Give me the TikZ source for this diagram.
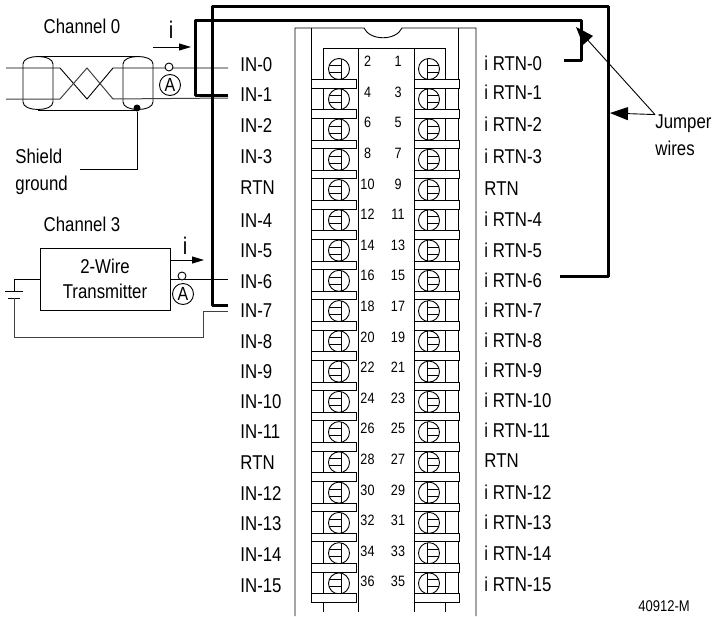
\documentclass[tikz,border=0pt]{standalone}
\usepackage{fontspec}
\setmainfont[FakeStretch=0.84]{Liberation Sans}
\usetikzlibrary{arrows.meta,positioning}

\begin{document}
\begin{tikzpicture}[x=1pt,y=-1pt,line width=0.9pt,
  every node/.style={font=\fontsize{20}{27}\selectfont},
  inlabel/.style={anchor=west,inner ysep=0pt,inner xsep=12pt},
  rtnlabel/.style={anchor=west,inner ysep=0pt,inner xsep=18pt},
  pinnum/.style={inner sep=0pt,font=\fontsize{15}{16}\selectfont},
  screwhead/.style={draw,circle,minimum size=21pt,inner sep=0pt},
  clampbar/.style={draw,fill=white,minimum width=45pt,minimum height=8.5pt,inner sep=0pt},
  meter/.style={draw,circle,fill=white,minimum size=21pt,inner sep=0pt,font=\fontsize{19}{20}\selectfont},
  tapnode/.style={draw,circle,fill=white,minimum size=8pt,inner sep=0pt},
  currentlabel/.style={inner sep=0pt,font=\fontsize{24}{26}\selectfont},
  jumper/.style={line width=3pt,line join=round},
  greywire/.style={draw=black!75,line width=1pt},
  currentarrow/.style={-{Triangle[length=12pt,width=7pt]}},
  jumperarrow/.style={-{Triangle[length=18pt,width=13pt]}}]
  \useasboundingbox (0,0) rectangle (717,616);

  \draw (295,616) -- (295,28) -- (364,28) .. controls (370,41) and (396,41) .. (402,28)
    -- (476,28) -- (476,616);
  \draw (311,28) -- (311,594) (458,28) -- (458,594);
  \draw (323,612) -- (323,48) -- (445,48) -- (445,612);
  \draw (358,612) -- (358,48) (414,612) -- (414,48);

  \foreach \i in {0,...,17} {
    \pgfmathsetmacro{\sy}{69+30.26*\i}
    \pgfmathsetmacro{\by}{83.75+30.26*\i}
    \pgfmathsetmacro{\ny}{61.5+30.6*\i}
    \pgfmathtruncatemacro{\odd}{2*\i+1}
    \pgfmathtruncatemacro{\even}{2*\i+2}
    \node[screwhead] (screwL\i) at (339,\sy) {};
    \node[screwhead] (screwR\i) at (429,\sy) {};
    \draw ([shift={(2pt,10.3pt)}]screwL\i.center) -- ([shift={(2pt,-10.3pt)}]screwL\i.center);
    \draw ([shift={(-9.9pt,3.5pt)}]screwL\i.center) -- ([shift={(2pt,3.5pt)}]screwL\i.center);
    \draw ([shift={(-9.9pt,-3.5pt)}]screwL\i.center) -- ([shift={(2pt,-3.5pt)}]screwL\i.center);
    \draw ([shift={(-2pt,10.3pt)}]screwR\i.center) -- ([shift={(-2pt,-10.3pt)}]screwR\i.center);
    \draw ([shift={(-2pt,3.5pt)}]screwR\i.center) -- ([shift={(9.9pt,3.5pt)}]screwR\i.center);
    \draw ([shift={(-2pt,-3.5pt)}]screwR\i.center) -- ([shift={(9.9pt,-3.5pt)}]screwR\i.center);
    \node[clampbar] (barL\i) at (333.5,\by) {};
    \node[clampbar] (barR\i) at (437,\by) {};
    \node[pinnum] (pin\even) at (367.5,\ny) {\even};
    \node[pinnum] (pin\odd) at (398,\ny) {\odd};
  }

  \foreach \name/\txt/\y in {in0/IN-0/65,in1/IN-1/95,in2/IN-2/126,in3/IN-3/157,inrtnA/RTN/188,
    in4/IN-4/221,in5/IN-5/251,in6/IN-6/282,in7/IN-7/311,in8/IN-8/342,in9/IN-9/372,in10/IN-10/402,
    in11/IN-11/432,inrtnB/RTN/463,in12/IN-12/494,in13/IN-13/524,in14/IN-14/555,in15/IN-15/586}
    \node[inlabel] (\name) at (228,\y) {\txt};
  \foreach \name/\txt/\y in {rtn0/i RTN-0/63,rtn1/i RTN-1/92,rtn2/i RTN-2/124,rtn3/i RTN-3/156,rtnA/RTN/189,
    rtn4/i RTN-4/219,rtn5/i RTN-5/250,rtn6/i RTN-6/280,rtn7/i RTN-7/310,rtn8/i RTN-8/340,rtn9/i RTN-9/370,
    rtn10/i RTN-10/400,rtn11/i RTN-11/430,rtnB/RTN/461,rtn12/i RTN-12/492,rtn13/i RTN-13/522,
    rtn14/i RTN-14/553,rtn15/i RTN-15/584}
    \node[rtnlabel] (\name) at (466,\y) {\txt};

  \node (chan0) at (82,26) {Channel 0};
  \node (chan3) at (82,224) {Channel 3};
  \node[currentlabel] (i0) at (171,30) {i};
  \node[currentlabel] (i3) at (185,246) {i};
  \node[anchor=west,inner sep=0pt,align=left] (shield) at (15,172) {Shield\\ground};
  \node[anchor=west,inner sep=0pt,align=left] (jumpers) at (655,135.5) {Jumper\\wires};
  \node[anchor=south,inner sep=0pt,font=\fontsize{15.5}{17}\selectfont] (partno) at (664,612.5) {40912-M};
  \node[draw,minimum width=130pt,minimum height=62pt,inner sep=0pt,align=center,
    font=\fontsize{20}{25}\selectfont] (tx) at (105,279) {2-Wire\\Transmitter};

  \coordinate (w0) at (6,68);
  \coordinate (w1) at (6,99);
  \coordinate (sg) at (80,169);
  \coordinate (batta) at (14,291);
  \coordinate (battb) at (14,298);
  \coordinate (iend0) at (191,47);
  \coordinate (istart0) at (153,47);
  \coordinate (iend3) at (204,260);
  \coordinate (tipa) at (576,27);
  \coordinate (tipb) at (610,113);

  \foreach \x in {23,123}
    \draw (\x,64) .. controls (\x,54) and (\x+30,54) .. (\x+30,64) -- (\x+30,102)
      .. controls (\x+30,112) and (\x,112) .. (\x,102) -- cycle;
  \draw (38,56.5) -- (138,56.5);
  \draw (38,110) -- (138,110);
  \draw (w0) -- (60,68) -- (87,99) -- (113,68) -- ([yshift=-3pt]in0.west);
  \draw[greywire] (w1) -- (60,99) -- (87,68) -- (113,99) -- ([yshift=-3pt]in1.west);
  \node[fill,circle,minimum size=7pt,inner sep=0pt] (dot) at (137,108) {};
  \draw (dot) |- (sg);
  \node[tapnode] (tap0) at (169,67) {};
  \node[meter] (meter0) at (170,85) {A};
  \draw[currentarrow] (istart0) -- (iend0);

  \draw (tx.east) -- ([yshift=3pt]in6.west);
  \node[tapnode] (tap3) at (182,276) {};
  \node[meter] (meter3) at (183,294) {A};
  \draw[currentarrow] ([yshift=19pt]tx.east) -- (iend3);
  \draw (tx.west) -| (batta);
  \draw ([xshift=-9pt]batta) -- ([xshift=9pt]batta);
  \draw ([xshift=-6pt]battb) -- ([xshift=6pt]battb);
  \draw[greywire] (in7.west) -| (203,337) -| (battb);

  \draw[jumper] ([yshift=6pt]in7.west) -| (212,6) -| (608,276) -- ([yshift=4pt]rtn6.east);
  \draw[jumper] (in1.west) -| (195,20) -| (581,60) -- ([shift={(4pt,3pt)}]rtn0.east);
  \draw[jumperarrow] (jumpers.north west) -- (tipa);
  \draw[jumperarrow] (jumpers.north west) -- (tipb);
\end{tikzpicture}
\end{document}
